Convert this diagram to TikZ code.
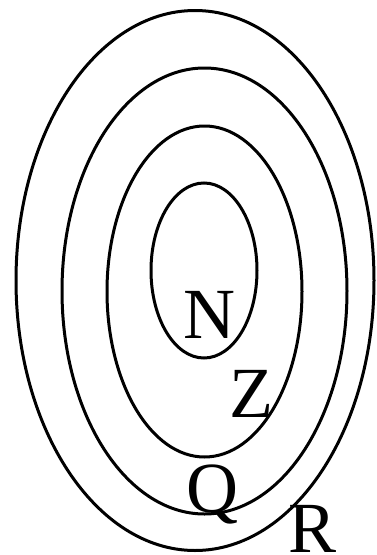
\documentclass[tikz,border=0pt]{standalone}
\usepackage{fontspec}
\setmainfont{Liberation Serif}
\begin{document}
\begin{tikzpicture}[x=1pt,y=-1pt,
  ring/.style={draw=black,line width=3pt},
  lab/.style={inner sep=0pt,anchor=base,font=\fontsize{72}{72}\selectfont}]
\useasboundingbox (0,0) rectangle (376,555);
\draw[ring] (195,280.5) ellipse [x radius=179,y radius=270];
\draw[ring] (204.5,291) ellipse [x radius=142.5,y radius=223];
\draw[ring] (204.5,291.5) ellipse [x radius=97.5,y radius=165.5];
\draw[ring] (204,270.5) ellipse [x radius=53,y radius=87.5];
\node[lab] (N) at (209.5,338) {N};
\node[lab] (Z) at (251.5,417) {Z};
\node[lab] (Q) at (212.5,512) {Q};
\node[lab] (R) at (312.5,552) {R};
\end{tikzpicture}
\end{document}
